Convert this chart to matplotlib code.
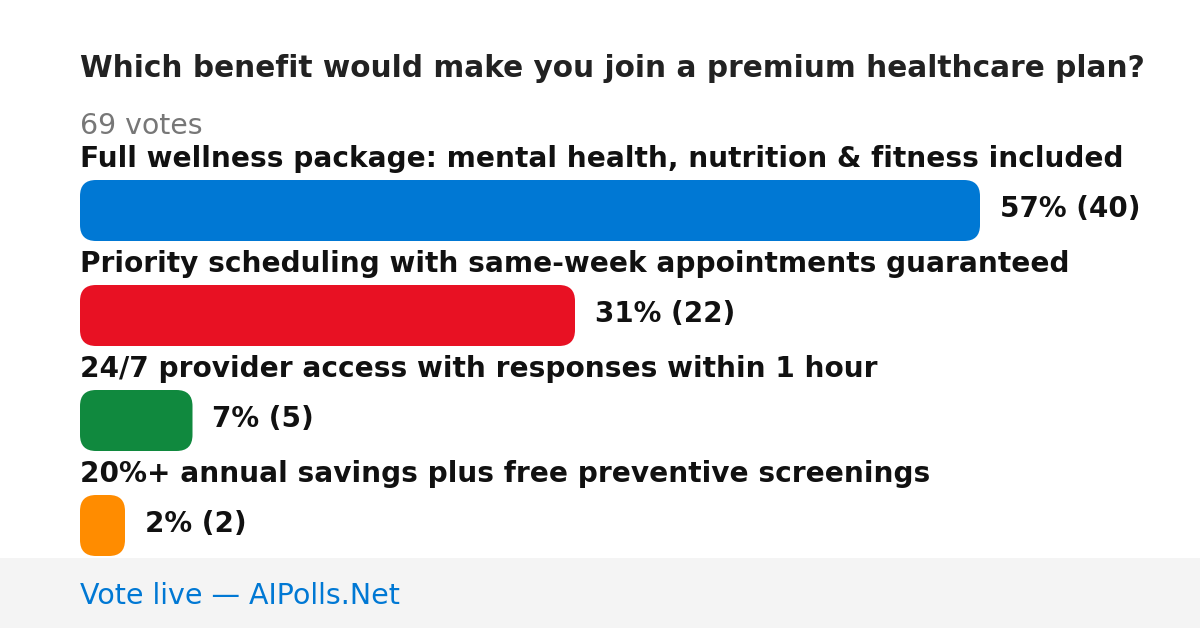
import matplotlib.pyplot as plt
from matplotlib.patches import FancyBboxPatch, Rectangle

plt.rcParams["font.family"] = ["DejaVu Sans"]

title = "Which benefit would make you join a premium healthcare plan?"
total_label = "69 votes"
options = [
    "Full wellness package: mental health, nutrition & fitness included",
    "Priority scheduling with same-week appointments guaranteed",
    "24/7 provider access with responses within 1 hour",
    "20%+ annual savings plus free preventive screenings",
]
votes = [40, 22, 5, 2]
percents = [57, 31, 7, 2]
colors = ["#0078d4", "#e81123", "#10893e", "#ff8c00"]
footer = "Vote live \u2014 AIPolls.Net"

W, H = 1200, 628
fig = plt.figure(figsize=(W / 100, H / 100), dpi=100)
ax = fig.add_axes([0, 0, 1, 1])
ax.set_xlim(0, W)
ax.set_ylim(H, 0)
ax.axis("off")

left = 80
max_w = 900
bar_h = 61
row0 = 180
step = 105

ax.text(left, 77, title, fontsize=21.3, fontweight="bold", color="#222222", va="baseline")
ax.text(left, 134.5, total_label, fontsize=20.4, color="#777777", va="baseline")

vmax = max(votes)
for i, (lab, v, p, c) in enumerate(zip(options, votes, percents, colors)):
    y = row0 + i * step
    ax.text(left, y - 13, lab, fontsize=20.2, fontweight="bold", color="#111111", va="baseline")
    w = v / vmax * max_w
    r = min(16, w / 2)
    ax.add_patch(FancyBboxPatch((left + r, y + r), w - 2 * r, bar_h - 2 * r,
                                boxstyle=f"round,pad={r}", fc=c, ec="none"))
    ax.text(left + w + 20, y + 37, f"{p}% ({v})", fontsize=20, fontweight="bold",
            color="#111111", va="baseline")

ax.add_patch(Rectangle((0, 558), W, H - 558, fc="#f4f4f4", ec="none"))
ax.text(left, 603.5, footer, fontsize=20.5, color="#0078d4", va="baseline")

fig.savefig("out.png", dpi=100)
